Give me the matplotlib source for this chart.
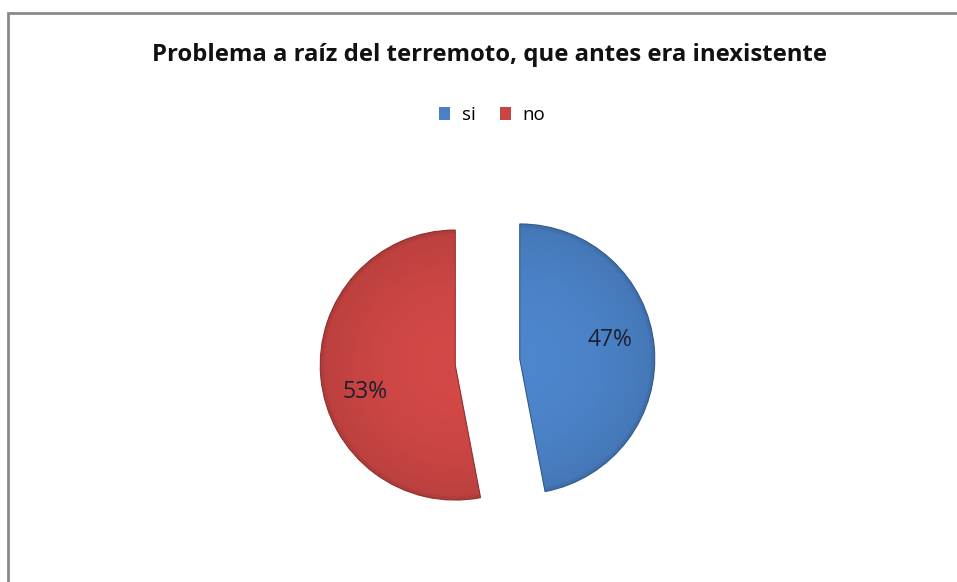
import numpy as np
import matplotlib.pyplot as plt
import matplotlib.colors as mcolors
from matplotlib.patches import Rectangle, Wedge

title = "Problema a raíz del terremoto, que antes era inexistente"
labels = ["si", "no"]
values = [47, 53]
colors = ["#4a80c4", "#c94543"]

W, H = 957, 582
fig = plt.figure(figsize=(W/100, H/100), dpi=100)
ax = fig.add_axes([0, 0, 1, 1])
ax.axis('off')

# gray chart border (clipped on the right and bottom like the original)
fig.patches.append(Rectangle((8/W, -0.1), 1.1, 1 - 13/H + 0.1, transform=fig.transFigure,
                             facecolor='none', edgecolor='#8a8a8a', linewidth=2))

r = 135
wedges, texts = ax.pie(values, colors=colors, startangle=90, counterclock=False,
                       center=(487.5, H - 362), radius=r,
                       explode=[0.24*r, 0.24*r],
                       wedgeprops=dict(edgecolor='none'))

# soft radial shading + outline, like the bevelled office pie
for w, c in zip(wedges, colors):
    cx, cy = w.center
    rr = w.r
    xs = np.linspace(cx - rr, cx + rr, 300)
    ys = np.linspace(cy - rr, cy + rr, 300)
    xx, yy = np.meshgrid(xs, ys)
    d = np.sqrt((xx - cx)**2 + (yy - cy)**2) / rr
    f = 1.05 - 0.12 * d**2
    f = np.where(d > 0.975, f - 0.06, f)
    base = np.array(mcolors.to_rgb(c))
    img = np.clip(base[None, None, :] * f[:, :, None], 0, 1)
    ax.imshow(img, extent=(cx - rr, cx + rr, cy - rr, cy + rr), origin='lower',
              clip_path=w, zorder=w.zorder + 0.1, interpolation='bilinear')
    ax.add_patch(Wedge((cx, cy), rr, w.theta1, w.theta2, facecolor='none',
                       edgecolor=np.clip(base * 0.72, 0, 1), linewidth=0.8,
                       zorder=w.zorder + 0.2))

    # percentage label
    frac = (w.theta2 - w.theta1) / 360
    ang = np.deg2rad((w.theta1 + w.theta2) / 2 + 9)
    ax.text(cx + 0.69*rr*np.cos(ang), cy + 0.69*rr*np.sin(ang) - 4, f"{frac*100:.0f}%",
            ha='center', va='center', fontsize=16.5, family='Open Sans',
            color='#1d1f2c', zorder=5)

ax.set_xlim(0, W)
ax.set_ylim(0, H)
ax.set_aspect('equal')
ax.set_position([0, 0, 1, 1])

fig.text(489/W, 1 - 61/H, title, ha='center', va='baseline', fontsize=17.2,
         fontweight='bold', family='Open Sans', color='#111111')

fig.legend(wedges, labels, loc='center', bbox_to_anchor=(492/W, 1 - 115/H), ncol=2,
           frameon=False, handlelength=0.6, handleheight=0.7, handletextpad=0.6,
           columnspacing=1.3, prop=dict(family='Open Sans', size=13.5))

fig.savefig("out.png", dpi=100, facecolor='white')
